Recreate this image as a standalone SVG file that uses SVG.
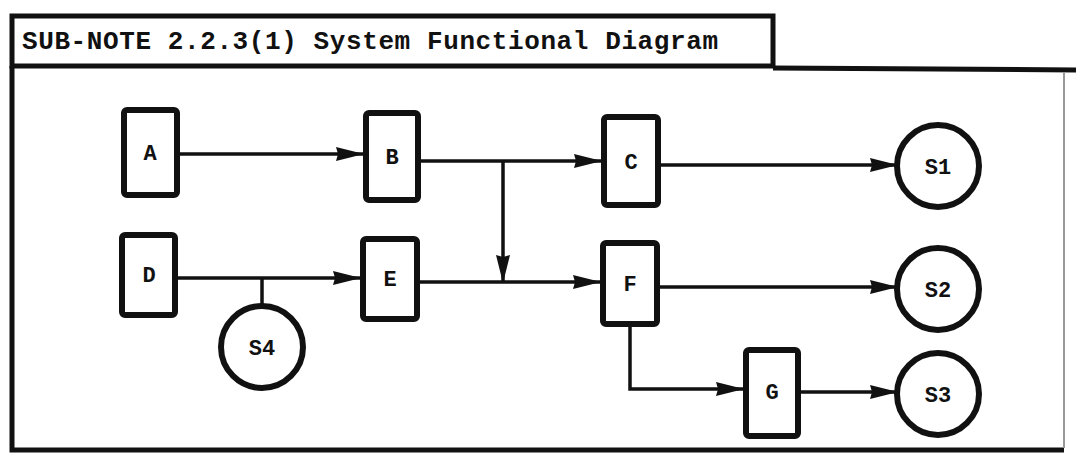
<svg xmlns="http://www.w3.org/2000/svg" width="1076" height="463" viewBox="0 0 1076 463">
<defs>
<marker id="arr" markerUnits="userSpaceOnUse" markerWidth="30" markerHeight="16" refX="27" refY="7" orient="auto">
<path d="M0,0 L28,7 L0,14 L2,7 z" fill="#111"/>
</marker>
<style>
.box{fill:#fff;stroke:#111;stroke-width:6;}
.circ{fill:#fff;stroke:#111;stroke-width:6;}
.lbl{font-family:"Liberation Mono","DejaVu Sans Mono",monospace;font-weight:bold;font-size:22px;fill:#111;text-anchor:middle;}
.ln{fill:none;stroke:#111;stroke-width:3.5;}
.frame{fill:none;stroke:#111;stroke-width:5;}
</style>
</defs>
<rect width="1076" height="463" fill="#fff"/>
<g id="frame">
<rect class="frame" x="12" y="16" width="761" height="50"/>
<path class="frame" d="M773,68 L1076,70"/>
<path class="frame" d="M12,66 L12,450 L1064,450"/>
<path d="M1064,72 L1064,448" stroke="#999" stroke-width="2" fill="none"/>
<text x="22" y="49" font-family="'Liberation Mono','DejaVu Sans Mono',monospace" font-weight="bold" font-size="26" textLength="696" fill="#111">SUB-NOTE 2.2.3(1) System Functional Diagram</text>
</g>
<g id="connectors">
<path class="ln" d="M180,154 L363,154" marker-end="url(#arr)"/>
<path class="ln" d="M421,161 L601,161" marker-end="url(#arr)"/>
<path class="ln" d="M503,161 L503,282" marker-end="url(#arr)"/>
<path class="ln" d="M420,282 L600,282" marker-end="url(#arr)"/>
<path class="ln" d="M178,278 L360,278" marker-end="url(#arr)"/>
<path class="ln" d="M262,278 L262,306"/>
<path class="ln" d="M661,165 L897,165" marker-end="url(#arr)"/>
<path class="ln" d="M660,287 L897,287" marker-end="url(#arr)"/>
<path class="ln" d="M630,327 L630,389 L743,389" marker-end="url(#arr)"/>
<path class="ln" d="M801,392 L897,392" marker-end="url(#arr)"/>
</g>
<g id="node-A"><rect class="box" x="124" y="110" width="53" height="85" rx="3"/><text class="lbl" x="150" y="160">A</text></g>
<g id="node-B"><rect class="box" x="366" y="113" width="52" height="87" rx="3"/><text class="lbl" x="392" y="164">B</text></g>
<g id="node-C"><rect class="box" x="604" y="117" width="54" height="88" rx="3"/><text class="lbl" x="631" y="169">C</text></g>
<g id="node-D"><rect class="box" x="122" y="235" width="53" height="80" rx="3"/><text class="lbl" x="149" y="282">D</text></g>
<g id="node-E"><rect class="box" x="363" y="239" width="54" height="80" rx="3"/><text class="lbl" x="390" y="286">E</text></g>
<g id="node-F"><rect class="box" x="603" y="243" width="54" height="81" rx="3"/><text class="lbl" x="630" y="291">F</text></g>
<g id="node-G"><rect class="box" x="746" y="350" width="52" height="86" rx="3"/><text class="lbl" x="772" y="399">G</text></g>
<g id="node-S1"><circle class="circ" cx="938" cy="166" r="41"/><text class="lbl" x="938" y="174">S1</text></g>
<g id="node-S2"><circle class="circ" cx="938" cy="289" r="41"/><text class="lbl" x="938" y="297">S2</text></g>
<g id="node-S3"><circle class="circ" cx="938" cy="394" r="41"/><text class="lbl" x="938" y="402">S3</text></g>
<g id="node-S4"><circle class="circ" cx="262" cy="347" r="41"/><text class="lbl" x="262" y="355">S4</text></g>
</svg>
